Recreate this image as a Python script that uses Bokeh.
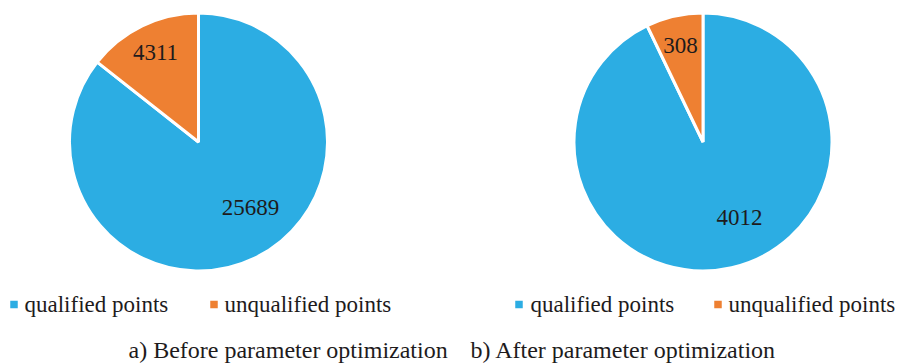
import math
from bokeh.plotting import figure
from bokeh.models import Range1d, ColumnDataSource
from bokeh.core.properties import value
from bokeh.embed import file_html
from bokeh.resources import INLINE

# Point counts for each pie (before / after parameter optimization)
categories = ["qualified points", "unqualified points"]
before_counts = [25689, 4311]
after_counts = [4012, 308]
captions = ["a) Before parameter optimization", "b) After parameter optimization"]
colors = ["#2CADE3", "#EE8032"]

W, H = 906, 363
FONT = "Liberation Serif"
TEXT_COLOR = "#1E1B1C"

p = figure(width=W, height=H, output_backend="svg", toolbar_location=None,
           x_range=Range1d(0, W), y_range=Range1d(0, H),
           x_axis_type=None, y_axis_type=None, min_border=0)
p.outline_line_color = None
p.grid.visible = False


def y_(sy):
    # convert a top-down pixel row into the bottom-up data y
    return H - sy


def draw_pie(cx, cy, radius, counts):
    total = float(sum(counts))
    start = math.pi / 2
    starts, ends, lx, ly, labels = [], [], [], [], []
    for c in counts:
        sweep = 2 * math.pi * c / total
        end = start - sweep
        starts.append(start)
        ends.append(end)
        mid = (start + end) / 2
        if c / total > 0.5:
            # large slice: label sits inside, pulled towards the upper part
            ang, rf = mid + math.radians(12.7), 0.65
        else:
            ang, rf = mid, 0.77
        # snap labels to whole pixels so the glyphs stay crisp
        lx.append(round(cx + rf * radius * math.cos(ang)))
        ly.append(round(cy + rf * radius * math.sin(ang)))
        labels.append(str(c))
        start = end
    src = ColumnDataSource(dict(x=[cx] * len(counts), y=[cy] * len(counts),
                                s=starts, e=ends, color=colors))
    p.wedge(x="x", y="y", radius=radius, start_angle="s", end_angle="e",
            direction="clock", fill_color="color", line_color="white",
            line_width=3, source=src)
    p.text(x=lx, y=ly, text=labels, text_font=value(FONT), text_font_size="23px",
           text_color=TEXT_COLOR, text_align="center", text_baseline="middle")


R = 129
draw_pie(198, y_(141.5), R, before_counts)
draw_pie(702.5, y_(141.5), R, after_counts)

# legends drawn as small squares plus labels
legend_y = y_(304)
square_xs = [13.5, 213.5, 518.5, 717.5]
legend_src = ColumnDataSource(dict(
    x=square_xs,
    y=[legend_y] * 4,
    tx=[round(sx + 11) for sx in square_xs],
    label=categories * 2,
    color=colors * 2,
))
p.rect(x="x", y="y", width=7.5, height=7.5, fill_color="color",
       line_color=None, source=legend_src)
p.text(x="tx", y="y", text="label", text_font=value(FONT),
       text_font_size="23px", text_color=TEXT_COLOR,
       text_align="left", text_baseline="middle", source=legend_src)

# captions under each pie
p.text(x=[128, 470], y=[y_(349)] * 2, text=captions, text_font=value(FONT),
       text_font_size="24px", text_color=TEXT_COLOR, text_align="left",
       text_baseline="middle")

open("out.html", "w").write(file_html(p, INLINE))
